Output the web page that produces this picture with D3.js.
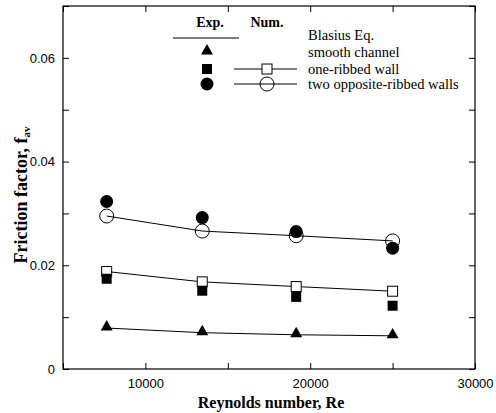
<!DOCTYPE html>
<html>
<head>
<meta charset="utf-8">
<script src="https://cdn.jsdelivr.net/npm/d3@7"></script>
<style>
  body { margin: 0; background: #fff; }
  svg { display: block; }
  .tick text { font-family: "Liberation Sans", Arial, sans-serif; font-size: 13px; }
</style>
</head>
<body>
<script>
// chart data
var reynolds = [7650, 13450, 19150, 25000];
var blasius = [0.0079, 0.0070, 0.0066, 0.0064];          // smooth channel
var oneRibExp = [0.0174, 0.0151, 0.0139, 0.0122];
var oneRibNum = [0.0188, 0.0168, 0.0159, 0.0150];
var twoRibExp = [0.0323, 0.0292, 0.0265, 0.0233];
var twoRibNum = [0.0295, 0.0266, 0.0257, 0.0247];
var xTicks = [10000, 20000, 30000];
var yTicks = [0, 0.02, 0.04, 0.06];

var width = 496,
    height = 413;
var margin = {left: 63, right: 21, top: 6, bottom: 44};

var svg = d3.select("body")
    .append("svg")
    .attr("width", width)
    .attr("height", height);

var x = d3.scaleLinear()
    .domain([5000, 30000])
    .range([margin.left, width - margin.right]);

var y = d3.scaleLinear()
    .domain([0, 0.07])
    .range([height - margin.bottom, margin.top]);

// ticks drawn inward on all four sides
function ticks(g, axis){
    g.call(axis);
    g.select(".domain").remove();
    g.selectAll(".tick line").attr("stroke", "#000");
}

var minorX = d3.range(5000, 30001, 5000);
var minorY = d3.range(0, 0.0701, 0.01);

svg.append("g")
    .attr("transform", "translate(0," + y(0) + ")")
    .call(ticks, d3.axisBottom(x).tickValues(minorX).tickSize(-6).tickFormat(function(d){
        return xTicks.indexOf(d) >= 0 ? d : "";
    }).tickPadding(10));

svg.append("g")
    .attr("transform", "translate(0," + y(0.07) + ")")
    .call(ticks, d3.axisTop(x).tickValues(minorX).tickSize(-6).tickFormat(""));

svg.append("g")
    .attr("transform", "translate(" + x(5000) + ",0)")
    .call(ticks, d3.axisLeft(y).tickValues(minorY).tickSize(-6).tickFormat(function(d){
        var v = Math.round(d * 100) / 100;
        var hit = yTicks.some(function(t){ return Math.abs(t - d) < 1e-9; });
        return hit ? (v === 0 ? "0" : d3.format(".2f")(v)) : "";
    }).tickPadding(8));

svg.append("g")
    .attr("transform", "translate(" + x(30000) + ",0)")
    .call(ticks, d3.axisRight(y).tickValues(minorY).tickSize(-6).tickFormat(""));

// frame
svg.append("rect")
    .attr("x", x(5000))
    .attr("y", y(0.07))
    .attr("width", x(30000) - x(5000))
    .attr("height", y(0) - y(0.07))
    .attr("fill", "none")
    .attr("stroke", "#000")
    .attr("stroke-width", 1.2);

// lines
var line = d3.line()
    .x(function(d){ return x(d[0]); })
    .y(function(d){ return y(d[1]); });

function pairs(vals){
    return reynolds.map(function(r, i){ return [r, vals[i]]; });
}

[blasius, oneRibNum, twoRibNum].forEach(function(s){
    svg.append("path")
        .datum(pairs(s))
        .attr("d", line)
        .attr("fill", "none")
        .attr("stroke", "#000")
        .attr("stroke-width", 1);
});

var tri = d3.symbol().type(d3.symbolTriangle).size(62);

function drawPoints(vals, kind){
    var g = svg.append("g");
    pairs(vals).forEach(function(p){
        addMarker(g, x(p[0]), y(p[1]), kind);
    });
}

function addMarker(g, cx, cy, kind){
    if (kind == "tri") {
        g.append("path").attr("d", tri)
            .attr("transform", "translate(" + cx + "," + (cy - 1) + ")")
            .attr("fill", "#000");
    } else if (kind == "sqFill") {
        g.append("rect").attr("x", cx - 5).attr("y", cy - 5)
            .attr("width", 10).attr("height", 10).attr("fill", "#000");
    } else if (kind == "sqOpen") {
        g.append("rect").attr("x", cx - 5).attr("y", cy - 5)
            .attr("width", 10).attr("height", 10)
            .attr("fill", "#fff").attr("stroke", "#000").attr("stroke-width", 1);
    } else if (kind == "cFill") {
        g.append("circle").attr("cx", cx).attr("cy", cy).attr("r", 6.5).attr("fill", "#000");
    } else {
        g.append("circle").attr("cx", cx).attr("cy", cy).attr("r", 7)
            .attr("fill", "none").attr("stroke", "#000").attr("stroke-width", 1);
    }
}

drawPoints(blasius, "tri");
drawPoints(oneRibNum, "sqOpen");
drawPoints(oneRibExp, "sqFill");
drawPoints(twoRibNum, "cOpen");
drawPoints(twoRibExp, "cFill");

// legend
var serif = "Liberation Serif, Times New Roman, Times, DejaVu Serif, serif";
var leg = svg.append("g");

leg.append("text").attr("x", 210).attr("y", 27).attr("text-anchor", "middle")
    .style("font-family", serif).attr("font-weight", "bold").attr("font-size", 14).text("Exp.");
leg.append("text").attr("x", 267).attr("y", 27).attr("text-anchor", "middle")
    .style("font-family", serif).attr("font-weight", "bold").attr("font-size", 14).text("Num.");
leg.append("line").attr("x1", 173).attr("x2", 239).attr("y1", 38).attr("y2", 38)
    .attr("stroke", "#000").attr("stroke-width", 1.2);

var legItems = [
    {label: "Blasius Eq.", y: 35, exp: null, num: null},
    {label: "smooth channel", y: 52, exp: "tri", num: null},
    {label: "one-ribbed wall", y: 69, exp: "sqFill", num: "sqOpen"},
    {label: "two opposite-ribbed walls", y: 84, exp: "cFill", num: "cOpen"}
];

legItems.forEach(function(it){
    if (it.exp) addMarker(leg, 207, it.y, it.exp);
    if (it.num) {
        leg.append("line").attr("x1", 234).attr("x2", 297).attr("y1", it.y).attr("y2", it.y)
            .attr("stroke", "#000").attr("stroke-width", 1);
        addMarker(leg, 267, it.y, it.num);
    }
    leg.append("text").attr("x", 308).attr("y", it.y + 4.5)
        .style("font-family", serif).attr("font-size", 14.5).text(it.label);
});

// axis titles
svg.append("text")
    .attr("x", 271).attr("y", 408)
    .attr("text-anchor", "middle")
    .style("font-family", serif).attr("font-weight", "bold").attr("font-size", 16)
    .text("Reynolds number, Re");

var yt = svg.append("text")
    .attr("transform", "translate(27,195) rotate(-90)")
    .attr("text-anchor", "middle")
    .style("font-family", serif).attr("font-weight", "bold").attr("font-size", 18);
yt.append("tspan").text("Friction factor, f");
yt.append("tspan").attr("font-size", 11).attr("dy", 3).text("av");
</script>
</body>
</html>
